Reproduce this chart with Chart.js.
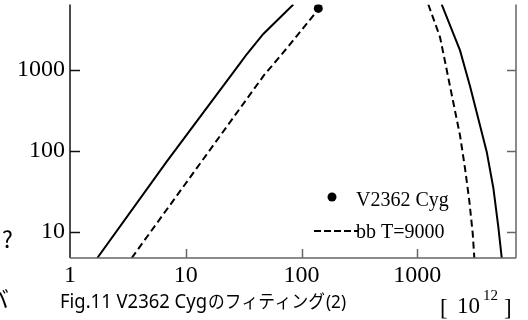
<!DOCTYPE html>
<html>
<head>
<meta charset="utf-8">
<script src="https://cdn.jsdelivr.net/npm/chart.js@4.4.1/dist/chart.umd.min.js"></script>
<style>
  html, body { margin: 0; background: #fff; }
  #c { display: block; }
</style>
</head>
<body>
<canvas id="c" width="528" height="320"></canvas>
<script>
// frequency in units of 10^12 Hz, flux in arbitrary units
const sedRiseNu = [1.72, 6.84, 29.4, 33.6, 46.7, 84.9];
const sedRiseF  = [4.8, 74, 1205, 1563, 2786, 6430];
const sedFallNu = [1622, 2336, 2851, 3365, 3975, 4532, 5006, 5357];
const sedFallF  = [6430, 1746, 630, 248, 97.7, 35.1, 11.5, 4.8];
const bbRiseNu = [3.41, 47.4, 76.9, 139.5, 152];
const bbRiseF  = [4.8, 863, 1954, 5600, 6430];
const bbFallNu = [1244, 1570, 1794, 2047, 2336, 2580, 2812, 3009, 3105];
const bbFallF  = [6430, 2540, 1000, 394, 156, 61.4, 24.2, 9.57, 4.8];
const obsNu = [139.5];
const obsF  = [5750];
const xTicks = [1, 10, 100, 1000];
const yTicks = [10, 100, 1000];

const pts = (xs, ys) => xs.map((v, i) => ({x: v, y: ys[i]}));
const serif = "'Liberation Serif', 'DejaVu Serif', serif";

const curve = (xs, ys, dash) => ({
  data: pts(xs, ys),
  showLine: true,
  borderColor: '#000',
  borderWidth: 2,
  borderDash: dash || [],
  pointRadius: 0,
  tension: 0
});

// axes, ticks, labels, legend and captions
const frame = {
  id: 'frame',
  afterDraw(chart) {
    const {ctx, chartArea: a, scales: {x, y}} = chart;
    ctx.save();
    ctx.lineCap = 'butt';

    // left axis
    ctx.strokeStyle = '#111';
    ctx.lineWidth = 1.5;
    ctx.beginPath();
    ctx.moveTo(a.left, a.top);
    ctx.lineTo(a.left, a.bottom);
    ctx.stroke();
    yTicks.forEach(t => {
      const py = Math.round(y.getPixelForValue(t)) + 0.5;
      ctx.beginPath();
      ctx.moveTo(a.left, py);
      ctx.lineTo(a.left + 10, py);
      ctx.stroke();
    });

    // bottom and right axes
    ctx.strokeStyle = '#666';
    ctx.beginPath();
    ctx.moveTo(a.left, a.bottom);
    ctx.lineTo(a.right, a.bottom);
    ctx.moveTo(a.right, a.top);
    ctx.lineTo(a.right, a.bottom);
    ctx.stroke();
    xTicks.slice(1).forEach(t => {
      const px = Math.round(x.getPixelForValue(t)) + 0.5;
      ctx.beginPath();
      ctx.moveTo(px, a.bottom);
      ctx.lineTo(px, a.bottom - 9);
      ctx.stroke();
    });
    yTicks.forEach(t => {
      const py = Math.round(y.getPixelForValue(t)) + 0.5;
      ctx.beginPath();
      ctx.moveTo(a.right, py);
      ctx.lineTo(a.right - 9, py);
      ctx.stroke();
    });

    // tick labels
    ctx.fillStyle = '#000';
    ctx.font = '24px ' + serif;
    ctx.textAlign = 'right';
    ctx.textBaseline = 'middle';
    yTicks.forEach(t => ctx.fillText(String(t), a.left - 5, y.getPixelForValue(t)));
    ctx.textAlign = 'center';
    ctx.textBaseline = 'alphabetic';
    xTicks.forEach(t => ctx.fillText(String(t), x.getPixelForValue(t), 282));

    // legend
    ctx.beginPath();
    ctx.arc(332, 197, 4.5, 0, Math.PI * 2);
    ctx.fill();
    ctx.strokeStyle = '#000';
    ctx.lineWidth = 2;
    ctx.setLineDash([7, 3]);
    ctx.beginPath();
    ctx.moveTo(314, 231);
    ctx.lineTo(358, 231);
    ctx.stroke();
    ctx.setLineDash([]);
    ctx.font = '20px ' + serif;
    ctx.textAlign = 'left';
    ctx.fillText('V2362 Cyg', 356, 206);
    ctx.fillText('bb T=9000', 356, 237.5);

    // unit label
    ctx.font = '23px ' + serif;
    ctx.fillText('[', 440, 315);
    ctx.fillText('10', 457, 313);
    ctx.fillText(']', 504, 315);
    ctx.font = '15px ' + serif;
    ctx.fillText('12', 483, 300);

    // caption
    ctx.font = "20px 'Noto Sans', sans-serif";
    ctx.fillText('Fig.11 V2362 Cyg', 60, 308, 147);
    ctx.font = "18px 'Noto Sans CJK JP', sans-serif";
    ctx.fillText('のフィティング', 208, 308, 117);
    ctx.font = "18px 'Noto Sans', sans-serif";
    ctx.fillText('(2)', 326, 308, 20);

    // fragments of the neighbouring page text
    ctx.font = "23px 'Noto Sans CJK JP', sans-serif";
    ctx.fillText('?', 2, 248);
    ctx.fillText('バ', -14, 308);

    ctx.restore();
  }
};

new Chart(document.getElementById('c'), {
  type: 'scatter',
  data: {
    datasets: [
      curve(sedRiseNu, sedRiseF),
      curve(sedFallNu, sedFallF),
      curve(bbRiseNu, bbRiseF, [7, 4]),
      curve(bbFallNu, bbFallF, [7, 4]),
      {
        data: pts(obsNu, obsF),
        pointRadius: 4.5,
        pointBackgroundColor: '#000',
        pointBorderWidth: 0
      }
    ]
  },
  options: {
    responsive: false,
    animation: false,
    devicePixelRatio: 1,
    layout: { padding: { left: 70, right: 12, top: 0, bottom: 62 } },
    plugins: { legend: { display: false }, tooltip: { enabled: false } },
    scales: {
      x: {
        type: 'logarithmic',
        min: 1,
        max: 7112,
        grid: { display: false },
        border: { display: false },
        ticks: { display: false },
        afterFit: s => { s.height = 0; }
      },
      y: {
        type: 'logarithmic',
        min: 4.8,
        max: 6427,
        grid: { display: false },
        border: { display: false },
        ticks: { display: false },
        afterFit: s => { s.width = 0; }
      }
    }
  },
  plugins: [frame]
});
</script>
</body>
</html>
